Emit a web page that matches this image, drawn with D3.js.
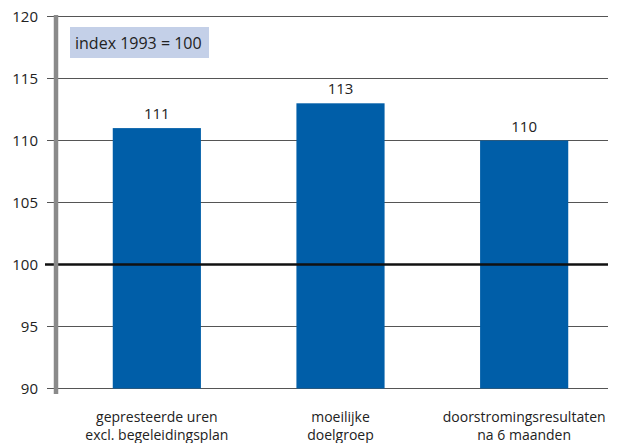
<!DOCTYPE html>
<html lang="en">
<head>
<meta charset="UTF-8">
<title>index 1993</title>
<script src="https://cdn.jsdelivr.net/npm/d3@7"></script>
<style>
  body { margin: 0; background: #fff; }
  text { font-family: "Open Sans", "DejaVu Sans", sans-serif; fill: #222; }
</style>
</head>
<body>
<div id="chart"></div>
<script>
// data
var categories = ["gepresteerde uren|excl. begeleidingsplan", "moeilijke|doelgroep", "doorstromingsresultaten|na 6 maanden"];
var values = [111, 113, 110];
var yTicks = [90, 95, 100, 105, 110, 115, 120];
var baseline = 100;
var boxLabel = "index 1993 = 100";

var W = 619, H = 443;
var svg = d3.select("#chart").append("svg").attr("width", W).attr("height", H);

var y = d3.scaleLinear().domain([90, 120]).range([388.5, 16.5]);
var x = d3.scaleBand().domain(categories).range([65, 616]).paddingInner(0.52).paddingOuter(0.26);

// gridlines
svg.append("g").selectAll("line")
  .data(yTicks.filter(d => d !== baseline))
  .enter().append("line")
  .attr("x1", 47).attr("x2", 608)
  .attr("y1", d => y(d)).attr("y2", d => y(d))
  .attr("stroke", "#555").attr("stroke-width", 1.2);

// tick labels
svg.append("g").selectAll("text")
  .data(yTicks)
  .enter().append("text")
  .attr("x", 38).attr("y", d => y(d) + 5)
  .attr("text-anchor", "end")
  .style("font-size", "15px")
  .text(d => d);

// bars
svg.append("g").selectAll("rect")
  .data(values)
  .enter().append("rect")
  .attr("x", (d, i) => x(categories[i]))
  .attr("width", x.bandwidth())
  .attr("y", d => y(d))
  .attr("height", d => y(90) - y(d))
  .attr("fill", "#005ea8");

// value labels
svg.append("g").selectAll("text")
  .data(values)
  .enter().append("text")
  .attr("x", (d, i) => x(categories[i]) + x.bandwidth() / 2)
  .attr("y", d => y(d) - 9)
  .attr("text-anchor", "middle")
  .style("font-size", "15px")
  .text(d => d);

// baseline 100
svg.append("line")
  .attr("x1", 45).attr("x2", 608)
  .attr("y1", y(baseline)).attr("y2", y(baseline))
  .attr("stroke", "#111").attr("stroke-width", 2.5);

// vertical axis
svg.append("line")
  .attr("x1", 56).attr("x2", 56)
  .attr("y1", 15).attr("y2", 394)
  .attr("stroke", "#8a8a8a").attr("stroke-width", 4.5);

// index box
svg.append("rect")
  .attr("x", 70).attr("y", 27).attr("width", 139).attr("height", 31)
  .attr("fill", "#c4d0e8");
svg.append("text")
  .attr("x", 75).attr("y", 49)
  .style("font-size", "16px")
  .text(boxLabel);

// category labels
var cat = svg.append("g").selectAll("text")
  .data(categories)
  .enter().append("text")
  .attr("x", d => x(d) + x.bandwidth() / 2)
  .attr("y", 422)
  .attr("text-anchor", "middle")
  .style("font-size", "14px");
cat.selectAll("tspan")
  .data(d => d.split("|"))
  .enter().append("tspan")
  .attr("x", function () { return d3.select(this.parentNode).attr("x"); })
  .attr("dy", (d, i) => i === 0 ? 0 : 18)
  .text(d => d);
</script>
</body>
</html>
